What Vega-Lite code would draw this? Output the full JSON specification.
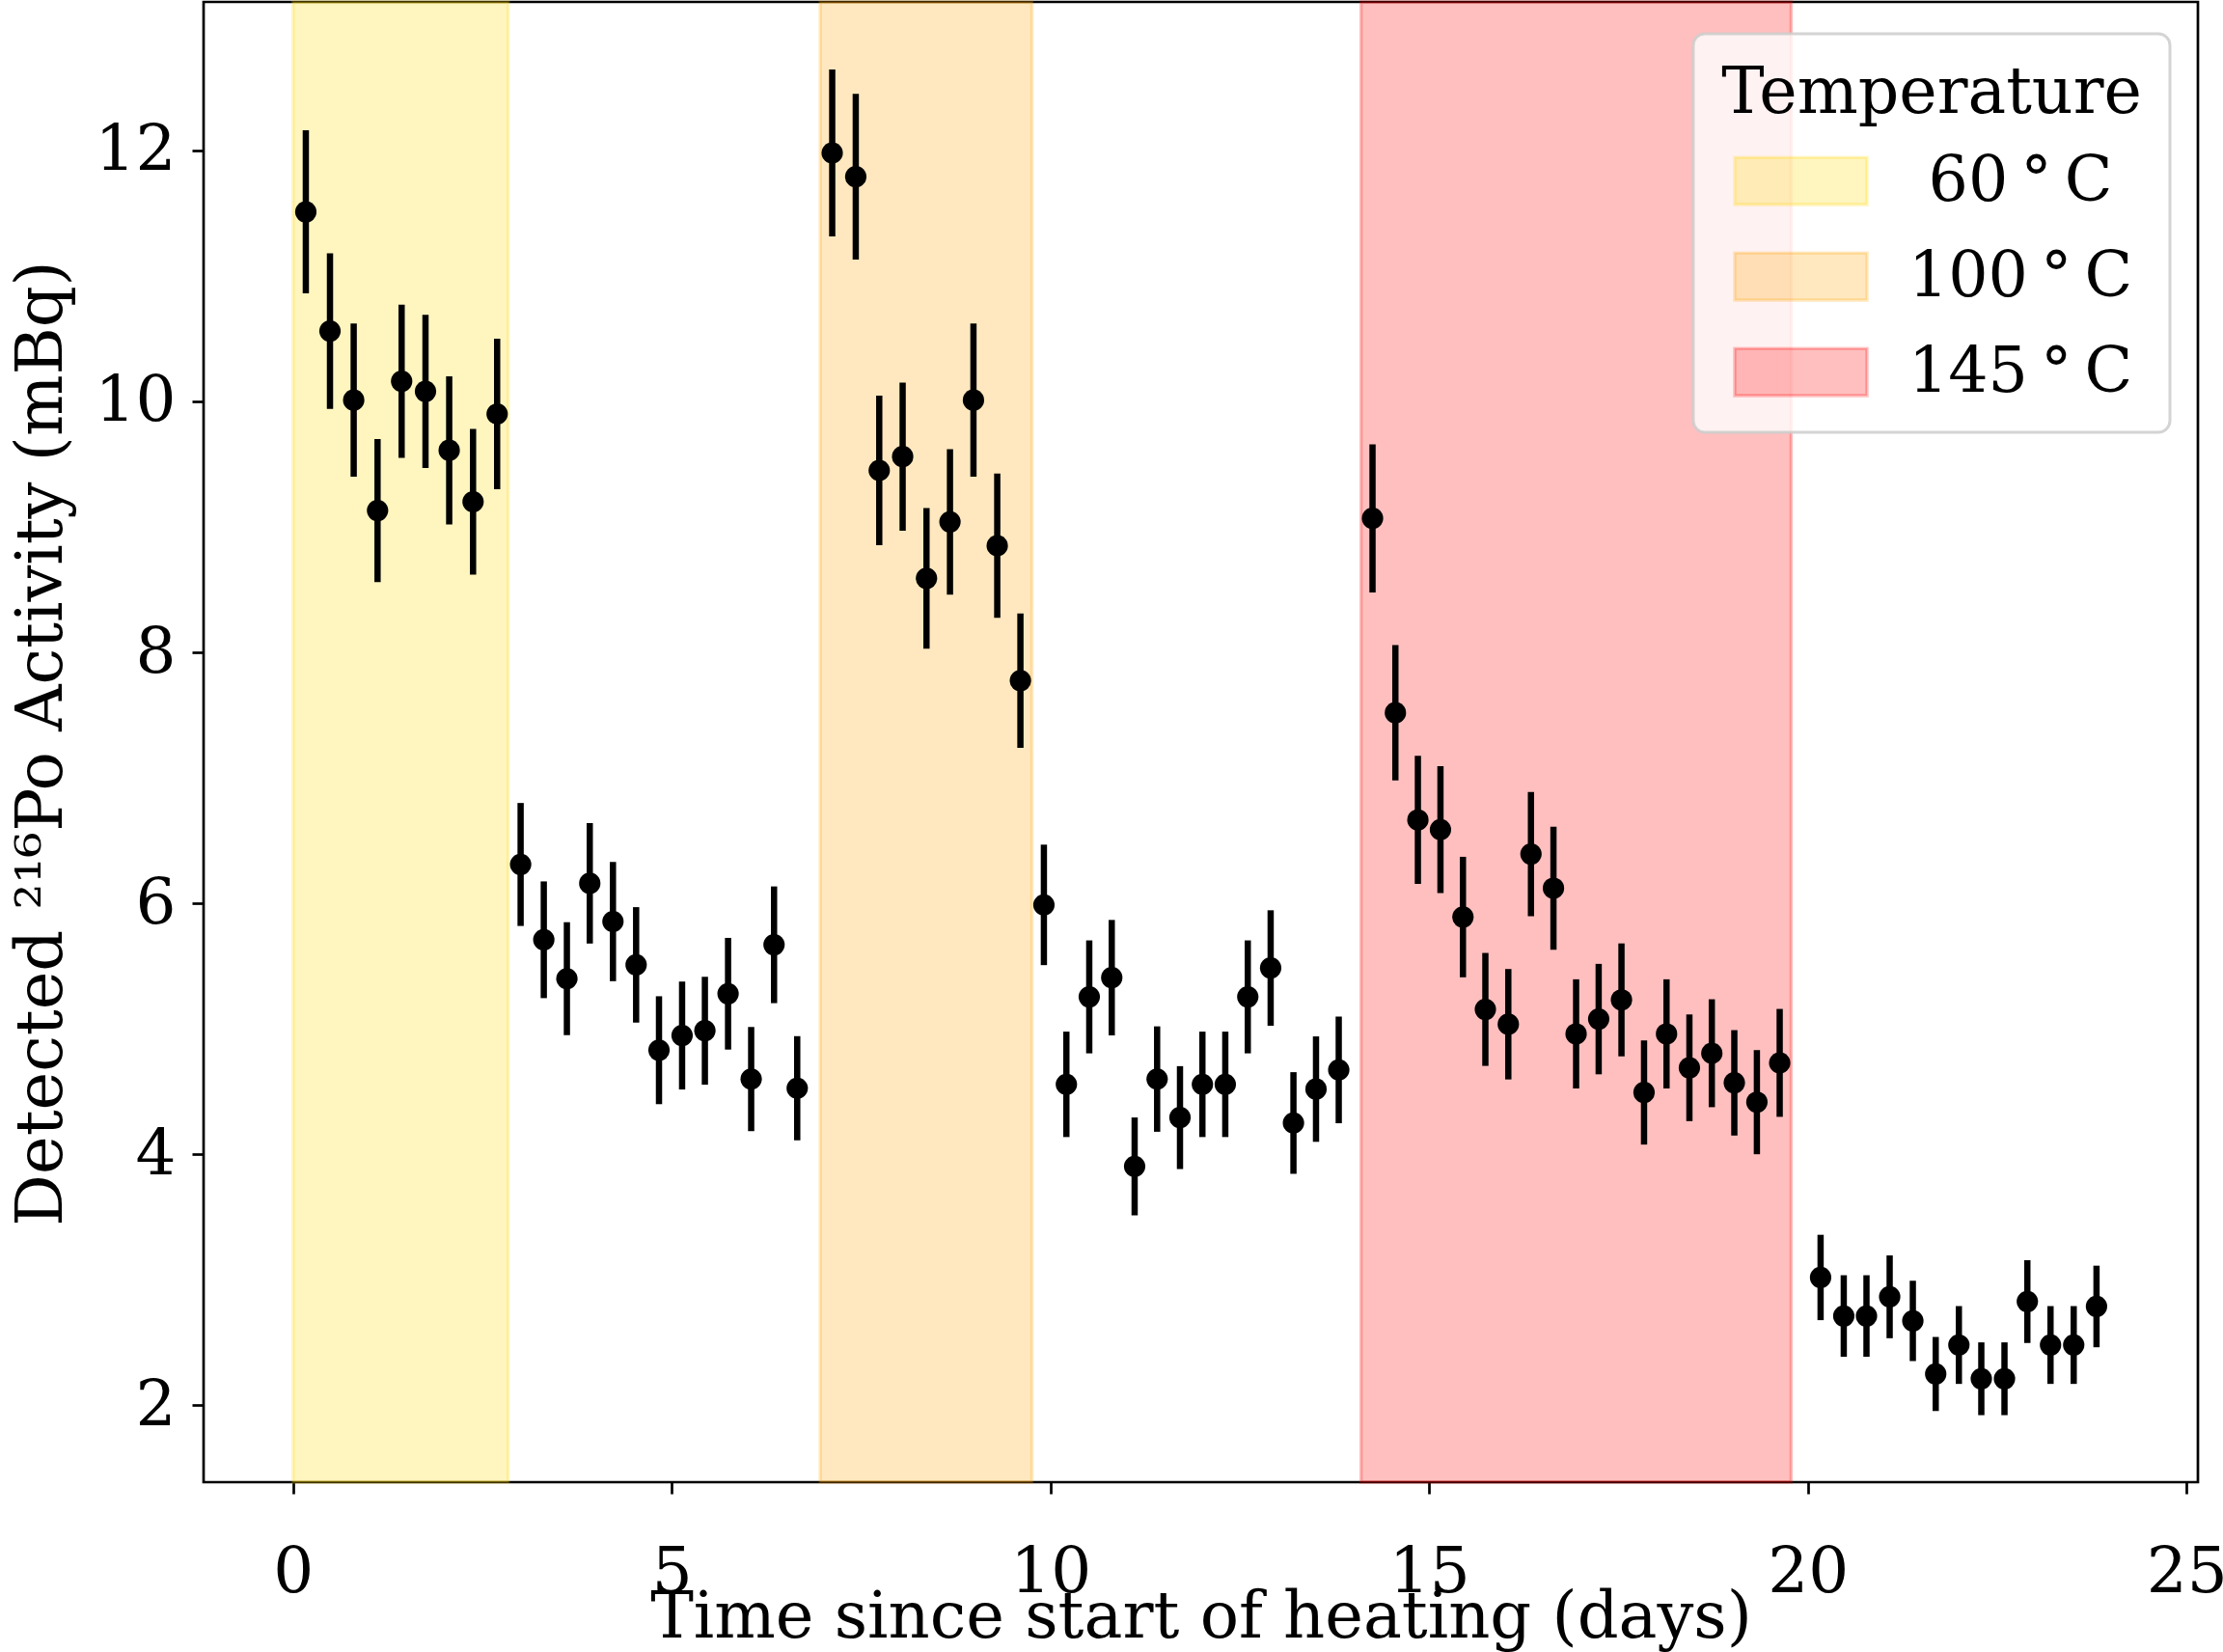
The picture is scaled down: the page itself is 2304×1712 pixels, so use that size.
{
  "$schema": "https://vega.github.io/schema/vega-lite/v6.json",
  "width": 2067,
  "height": 1534,
  "autosize": {"type": "none"},
  "padding": {"left": 211, "top": 2, "right": 26, "bottom": 176},
  "background": "white",
  "config": {
    "font": "DejaVu Serif",
    "view": {"stroke": "black", "strokeWidth": 2.7},
    "axis": {
      "grid": false,
      "domain": false,
      "tickColor": "black",
      "tickWidth": 2.7,
      "tickSize": 12,
      "labelFont": "DejaVu Serif",
      "labelFontSize": 66,
      "labelColor": "black",
      "labelFlush": false,
      "labelOverlap": false,
      "labelBound": false,
      "titleFont": "DejaVu Serif",
      "titleFontSize": 67,
      "titleFontWeight": "normal",
      "titleColor": "black"
    },
    "axisX": {"labelPadding": 49, "titleY": 160, "titleBaseline": "alphabetic"},
    "axisY": {"labelPadding": 17, "titleX": -148, "titleY": 768, "titleBaseline": "alphabetic"},
    "legend": {
      "padding": 29,
      "cornerRadius": 12,
      "fillColor": "rgba(255,255,255,0.8)",
      "strokeColor": "rgba(204,204,204,0.85)",
      "titleFont": "DejaVu Serif",
      "titleFontSize": 66.5,
      "titleFontWeight": "normal",
      "titleColor": "black",
      "titleAnchor": "middle",
      "titleAlign": "center",
      "titleBaseline": "top",
      "titlePadding": 31,
      "titleLimit": 1000,
      "labelFont": "DejaVu Serif",
      "labelFontSize": 65,
      "labelColor": "black",
      "labelAlign": "center",
      "labelBaseline": "middle",
      "labelOffset": 157,
      "labelLimit": 400,
      "symbolType": "M-1,-0.358H1V0.358H-1Z",
      "symbolSize": 18769,
      "symbolStrokeWidth": 3.4,
      "symbolOffset": 2,
      "clipHeight": 52,
      "rowPadding": 34
    }
  },
  "datasets": {
    "bands": [
      {"temp": "60\u2009°\u2009C", "start": 0, "end": 2.84},
      {"temp": "100\u2009°\u2009C", "start": 6.96, "end": 9.755},
      {"temp": "145\u2009°\u2009C", "start": 14.1, "end": 19.78}
    ],
    "activity": [
      {"t": 0.168, "a": 11.51, "e": 0.65},
      {"t": 0.487, "a": 10.56, "e": 0.62},
      {"t": 0.8, "a": 10.01, "e": 0.61},
      {"t": 1.115, "a": 9.13, "e": 0.57},
      {"t": 1.433, "a": 10.16, "e": 0.61},
      {"t": 1.748, "a": 10.08, "e": 0.61},
      {"t": 2.061, "a": 9.61, "e": 0.59},
      {"t": 2.376, "a": 9.2, "e": 0.58},
      {"t": 2.694, "a": 9.9, "e": 0.6},
      {"t": 3.004, "a": 6.31, "e": 0.49},
      {"t": 3.31, "a": 5.71, "e": 0.465},
      {"t": 3.615, "a": 5.4, "e": 0.45},
      {"t": 3.917, "a": 6.16, "e": 0.48},
      {"t": 4.223, "a": 5.855, "e": 0.475},
      {"t": 4.529, "a": 5.51, "e": 0.46},
      {"t": 4.831, "a": 4.83, "e": 0.43},
      {"t": 5.136, "a": 4.947, "e": 0.43},
      {"t": 5.437, "a": 4.985, "e": 0.43},
      {"t": 5.743, "a": 5.28, "e": 0.445},
      {"t": 6.048, "a": 4.6, "e": 0.415},
      {"t": 6.35, "a": 5.67, "e": 0.465},
      {"t": 6.656, "a": 4.527, "e": 0.415},
      {"t": 7.118, "a": 11.98, "e": 0.665},
      {"t": 7.429, "a": 11.79, "e": 0.66},
      {"t": 7.739, "a": 9.45, "e": 0.595},
      {"t": 8.048, "a": 9.56, "e": 0.59},
      {"t": 8.363, "a": 8.59, "e": 0.56},
      {"t": 8.673, "a": 9.04, "e": 0.58},
      {"t": 8.983, "a": 10.01, "e": 0.61},
      {"t": 9.297, "a": 8.85, "e": 0.575},
      {"t": 9.603, "a": 7.775, "e": 0.535},
      {"t": 9.913, "a": 5.988, "e": 0.48},
      {"t": 10.21, "a": 4.558, "e": 0.42},
      {"t": 10.512, "a": 5.255, "e": 0.45},
      {"t": 10.809, "a": 5.408, "e": 0.46},
      {"t": 11.111, "a": 3.904, "e": 0.39},
      {"t": 11.408, "a": 4.6, "e": 0.42},
      {"t": 11.71, "a": 4.293, "e": 0.41},
      {"t": 12.006, "a": 4.558, "e": 0.42},
      {"t": 12.308, "a": 4.558, "e": 0.42},
      {"t": 12.605, "a": 5.255, "e": 0.45},
      {"t": 12.907, "a": 5.485, "e": 0.46},
      {"t": 13.208, "a": 4.25, "e": 0.405},
      {"t": 13.506, "a": 4.52, "e": 0.42},
      {"t": 13.806, "a": 4.673, "e": 0.425},
      {"t": 14.252, "a": 9.068, "e": 0.59},
      {"t": 14.554, "a": 7.519, "e": 0.54},
      {"t": 14.851, "a": 6.665, "e": 0.51},
      {"t": 15.149, "a": 6.588, "e": 0.505},
      {"t": 15.446, "a": 5.891, "e": 0.48},
      {"t": 15.742, "a": 5.155, "e": 0.45},
      {"t": 16.045, "a": 5.037, "e": 0.44},
      {"t": 16.344, "a": 6.393, "e": 0.495},
      {"t": 16.641, "a": 6.121, "e": 0.49},
      {"t": 16.94, "a": 4.96, "e": 0.435},
      {"t": 17.238, "a": 5.078, "e": 0.44},
      {"t": 17.539, "a": 5.231, "e": 0.45},
      {"t": 17.837, "a": 4.493, "e": 0.415},
      {"t": 18.134, "a": 4.96, "e": 0.435},
      {"t": 18.436, "a": 4.69, "e": 0.425},
      {"t": 18.732, "a": 4.806, "e": 0.43},
      {"t": 19.029, "a": 4.57, "e": 0.42},
      {"t": 19.327, "a": 4.416, "e": 0.415},
      {"t": 19.628, "a": 4.729, "e": 0.43},
      {"t": 20.168, "a": 3.019, "e": 0.34},
      {"t": 20.474, "a": 2.712, "e": 0.325},
      {"t": 20.774, "a": 2.712, "e": 0.325},
      {"t": 21.08, "a": 2.865, "e": 0.33},
      {"t": 21.386, "a": 2.673, "e": 0.32},
      {"t": 21.688, "a": 2.25, "e": 0.295},
      {"t": 21.994, "a": 2.481, "e": 0.31},
      {"t": 22.29, "a": 2.212, "e": 0.29},
      {"t": 22.596, "a": 2.212, "e": 0.29},
      {"t": 22.898, "a": 2.827, "e": 0.33},
      {"t": 23.204, "a": 2.481, "e": 0.31},
      {"t": 23.51, "a": 2.481, "e": 0.31},
      {"t": 23.811, "a": 2.788, "e": 0.325}
    ]
  },
  "layer": [
    {
      "data": {"name": "bands"},
      "mark": {"type": "rect", "fillOpacity": 0.25, "strokeOpacity": 0.25, "strokeWidth": 3.4},
      "encoding": {
        "x": {
          "field": "start",
          "type": "quantitative",
          "title": "Time since start of heating (days)",
          "scale": {"domain": [-1.182, 25.15], "nice": false, "zero": false},
          "axis": {"values": [0, 5, 10, 15, 20, 25]}
        },
        "x2": {"field": "end"},
        "fill": {
          "field": "temp",
          "type": "nominal",
          "scale": {"domain": ["60\u2009°\u2009C", "100\u2009°\u2009C", "145\u2009°\u2009C"], "range": ["#FFD700", "#FFA500", "#FF0000"]},
          "legend": {
            "title": "Temperature",
            "orient": "none",
            "legendX": 1544,
            "legendY": 33,
            "encode": {
              "symbols": {"update": {"fillOpacity": {"value": 0.25}, "strokeOpacity": {"value": 0.25}}},
              "legend": {"update": {"strokeWidth": {"value": 3}}}
            }
          }
        },
        "stroke": {
          "field": "temp",
          "type": "nominal",
          "scale": {"domain": ["60\u2009°\u2009C", "100\u2009°\u2009C", "145\u2009°\u2009C"], "range": ["#FFD700", "#FFA500", "#FF0000"]},
          "legend": {
            "title": "Temperature",
            "orient": "none",
            "legendX": 1544,
            "legendY": 33,
            "encode": {
              "symbols": {"update": {"fillOpacity": {"value": 0.25}, "strokeOpacity": {"value": 0.25}}},
              "legend": {"update": {"strokeWidth": {"value": 3}}}
            }
          }
        }
      }
    },
    {
      "data": {"name": "activity"},
      "mark": {"type": "errorbar", "thickness": 6.5, "color": "black"},
      "encoding": {
        "x": {
          "field": "t",
          "type": "quantitative",
          "title": "Time since start of heating (days)",
          "scale": {"domain": [-1.182, 25.15], "nice": false, "zero": false},
          "axis": {"values": [0, 5, 10, 15, 20, 25]}
        },
        "y": {
          "field": "a",
          "type": "quantitative",
          "title": "Detected ²¹⁶Po Activity (mBq)",
          "scale": {"domain": [1.388, 13.183], "nice": false, "zero": false},
          "axis": {"values": [2, 4, 6, 8, 10, 12]}
        },
        "yError": {"field": "e"}
      }
    },
    {
      "data": {"name": "activity"},
      "mark": {"type": "point", "filled": true, "color": "black", "opacity": 1, "size": 490, "strokeWidth": 0},
      "encoding": {
        "x": {
          "field": "t",
          "type": "quantitative",
          "title": "Time since start of heating (days)",
          "scale": {"domain": [-1.182, 25.15], "nice": false, "zero": false},
          "axis": {"values": [0, 5, 10, 15, 20, 25]}
        },
        "y": {
          "field": "a",
          "type": "quantitative",
          "title": "Detected ²¹⁶Po Activity (mBq)",
          "scale": {"domain": [1.388, 13.183], "nice": false, "zero": false},
          "axis": {"values": [2, 4, 6, 8, 10, 12]}
        }
      }
    }
  ]
}
